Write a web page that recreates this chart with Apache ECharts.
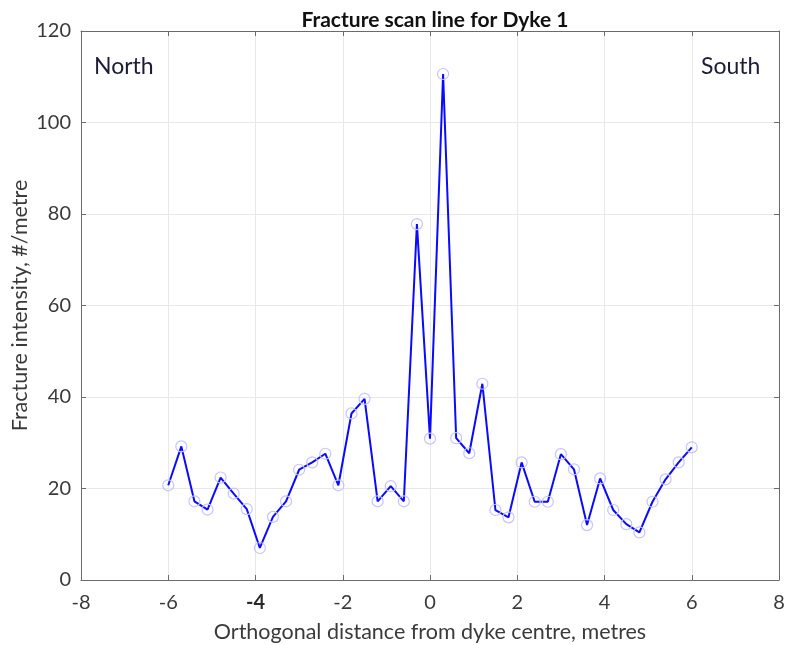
<!DOCTYPE html>
<html>
<head>
<meta charset="utf-8">
<script src="https://cdn.jsdelivr.net/npm/echarts@6/dist/echarts.min.js"></script>
<style>
  html, body { margin: 0; padding: 0; background: #fff; }
  #chart { width: 786px; height: 645px; }
</style>
</head>
<body>
<div id="chart"></div>
<script>
// distance from dyke centre (m) and fracture intensity (#/m)
const distance = [
  -6.0, -5.7, -5.4, -5.1, -4.8, -4.5, -4.2, -3.9, -3.6, -3.3, -3.0,
  -2.7, -2.4, -2.1, -1.8, -1.5, -1.2, -0.9, -0.6, -0.3, 0.0,
  0.3, 0.6, 0.9, 1.2, 1.5, 1.8, 2.1, 2.4, 2.7, 3.0,
  3.3, 3.6, 3.9, 4.2, 4.5, 4.8, 5.1, 5.4, 5.7, 6.0
];
const intensity = [
  20.7, 29.2, 17.2, 15.4, 22.4, 18.9, 15.5, 7.0, 13.8, 17.2, 24.1,
  25.7, 27.6, 20.7, 36.4, 39.6, 17.2, 20.5, 17.2, 77.8, 30.9,
  110.6, 31.0, 27.7, 42.9, 15.3, 13.7, 25.7, 17.1, 17.1, 27.5,
  24.2, 12.0, 22.2, 15.3, 12.2, 10.4, 17.1, 22.0, 25.7, 29.0
];
const xTicks = { min: -8, max: 8, step: 2 };
const yTicks = { min: 0, max: 120, step: 20 };

const FONT = 'Lato, "Open Sans", sans-serif';
const chart = echarts.init(document.getElementById('chart'));

const axisLine = { show: true, onZero: false, lineStyle: { color: '#6b6b6b', width: 1 } };
const tick = { show: true, inside: true, length: 5, lineStyle: { color: '#6b6b6b' } };
const split = { show: true, lineStyle: { color: '#e8e8e8', width: 1 } };

chart.setOption({
  backgroundColor: '#fff',
  animation: false,
  title: {
    text: 'Fracture scan line for Dyke 1',
    left: 430, top: 5, textAlign: 'center',
    textStyle: { fontFamily: FONT, fontSize: 21, fontWeight: 'bold', color: '#111' },
  },
  grid: { left: 81, right: 7, top: 31, bottom: 65, containLabel: false, outerBoundsMode: 'none' },
  xAxis: [{
    type: 'value', min: xTicks.min, max: xTicks.max, interval: xTicks.step,
    name: 'Orthogonal distance from dyke centre, metres',
    nameLocation: 'middle', nameGap: 41, nameMoveOverlap: false,
    nameTextStyle: { fontFamily: FONT, fontSize: 21.5, color: '#3a3a3a' },
    axisLine, axisTick: tick, splitLine: split,
    axisLabel: {
      fontFamily: FONT, fontSize: 20, color: '#3a3a3a', margin: 13,
      formatter: v => (v === -4 ? '{b|' + v + '}' : String(v)),
      rich: { b: { fontFamily: FONT, fontSize: 20, fontWeight: 'bold', color: '#2a2a2a' } },
    },
  }, {
    type: 'value', position: 'top', min: xTicks.min, max: xTicks.max, interval: xTicks.step,
    axisLine, axisTick: tick, splitLine: { show: false }, axisLabel: { show: false },
  }],
  yAxis: [{
    type: 'value', min: yTicks.min, max: yTicks.max, interval: yTicks.step,
    name: 'Fracture intensity, #/metre',
    nameLocation: 'middle', nameGap: 50, nameMoveOverlap: false,
    nameTextStyle: { fontFamily: FONT, fontSize: 21.5, color: '#3a3a3a' },
    axisLine, axisTick: tick, splitLine: split,
    axisLabel: { fontFamily: FONT, fontSize: 20, color: '#3a3a3a', margin: 10 },
  }, {
    type: 'value', position: 'right', min: yTicks.min, max: yTicks.max, interval: yTicks.step,
    axisLine, axisTick: tick, splitLine: { show: false }, axisLabel: { show: false },
  }],
  graphic: [
    { type: 'text', left: 94, top: 55,
      style: { text: 'North', font: '23px ' + FONT, fill: '#1c1c3a' } },
    { type: 'text', left: 701, top: 55,
      style: { text: 'South', font: '23px ' + FONT, fill: '#1c1c3a' } },
  ],
  series: [{
    type: 'line',
    data: distance.map((d, i) => [d, intensity[i]]),
    symbol: 'circle', symbolSize: 11,
    itemStyle: { color: 'rgba(255,255,255,0)', borderColor: '#c4c4ff', borderWidth: 1.2 },
    lineStyle: { color: '#0a0aff', width: 2 },
    z: 3,
  }],
});
</script>
</body>
</html>
